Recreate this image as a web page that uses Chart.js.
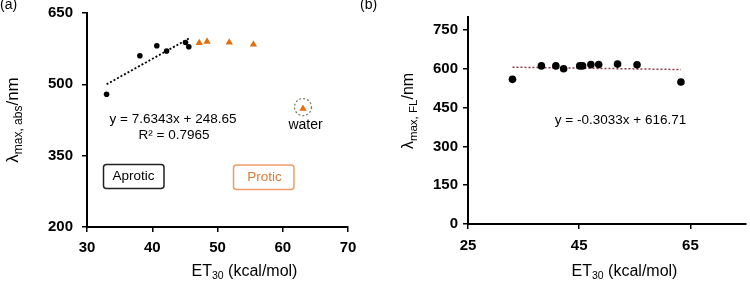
<!DOCTYPE html>
<html>
<head>
<meta charset="utf-8">
<script src="https://cdn.jsdelivr.net/npm/chart.js@4.4.0/dist/chart.umd.min.js"></script>
<style>
  html, body { margin: 0; padding: 0; background: #fff; overflow: hidden; }
  #wrap { position: relative; width: 750px; height: 282px; }
  canvas { position: absolute; top: 0; }
  #chartA { left: 0; }
  #chartB { left: 358px; }
</style>
</head>
<body>
<div id="wrap">
  <canvas id="chartA" width="358" height="282"></canvas>
  <canvas id="chartB" width="392" height="282"></canvas>
</div>
<script>
// ── DATA ─────────────────────────────────────────────────────────
// (a) absorption maxima vs ET30
const etAprotic  = [33.0, 38.1, 40.7, 42.2, 45.1, 45.6];
const absAprotic = [479, 560, 581, 570, 588, 579];
const etProtic   = [47.2, 48.4, 51.8, 55.5, 63.1];   // last one = water
const absProtic  = [587, 590, 588, 584, 449];
const trendAx    = [33.0, 45.7];
const trendAy    = [500, 597];
const xTicksA    = [30, 40, 50, 60, 70];
const yTicksA    = [200, 350, 500, 650];

// (b) fluorescence maxima vs ET30
const etFL       = [33.0, 38.2, 40.8, 42.2, 45.1, 45.6, 47.1, 48.5, 51.9, 55.4, 63.3];
const flVals     = [559, 611, 611, 600, 611, 611, 616, 616, 618, 615, 549];
const trendBx    = [33.0, 63.3];
const trendBy    = [606, 597];
const xTicksB    = [25, 45, 65];
const yTicksB    = [0, 150, 300, 450, 600, 750];

const FONT   = "'Liberation Sans', Arial, sans-serif";
const ORANGE = "#E46C0A";

const pts = (xs, ys) => xs.map((x, i) => ({ x, y: ys[i] }));

// draw a run of text pieces (for sub-scripts), centered on cx, optionally rotated
function richText(ctx, parts, cx, cy, rot) {
  ctx.save();
  ctx.translate(cx, cy);
  ctx.rotate(rot || 0);
  let w = 0;
  parts.forEach(p => { ctx.font = p.f; p.w = ctx.measureText(p.t).width; w += p.w; });
  let x = -w / 2;
  ctx.textAlign = "left";
  ctx.textBaseline = "alphabetic";
  ctx.fillStyle = "#000";
  parts.forEach(p => { ctx.font = p.f; ctx.fillText(p.t, x, p.dy || 0); x += p.w; });
  ctx.restore();
}

function plainText(ctx, t, x, y, font, color, align) {
  ctx.save();
  ctx.font = font;
  ctx.fillStyle = color || "#000";
  ctx.textAlign = align || "center";
  ctx.textBaseline = "middle";
  ctx.fillText(t, x, y);
  ctx.restore();
}

function roundBox(ctx, x0, y0, x1, y1, r, color) {
  ctx.save();
  ctx.strokeStyle = color;
  ctx.lineWidth = 1.5;
  ctx.beginPath();
  ctx.roundRect(x0, y0, x1 - x0, y1 - y0, r);
  ctx.stroke();
  ctx.restore();
}

function axisCfg(ticks, min, max, width, height, pad) {
  return {
    type: "linear",
    min, max,
    afterBuildTicks: s => { s.ticks = ticks.map(v => ({ value: v })); },
    afterFit: s => {
      if (width != null) s.width = width;
      if (height != null) s.height = height;
      s.paddingTop = s.paddingBottom = s.paddingLeft = s.paddingRight = 0;
    },
    grid: { drawOnChartArea: false, drawTicks: true, tickLength: 5, color: "#000", lineWidth: 1.5 },
    border: { display: true, color: "#000", width: 2 },
    ticks: {
      color: "#000",
      padding: pad,
      font: { family: FONT, size: 15, weight: "bold" },
    },
  };
}

// ── (a) ABSORPTION ───────────────────────────────────────────────
(function () {
  const decor = {
    id: "decorA",
    afterDraw(chart) {
      const ctx = chart.ctx;
      plainText(ctx, "(a)", 0, 5, "14px " + FONT, "#000", "left");

      plainText(ctx, "y = 7.6343x + 248.65", 173, 119, "13.5px " + FONT);
      plainText(ctx, "R\u00b2 = 0.7965", 174, 135, "13.5px " + FONT);

      roundBox(ctx, 103.5, 164.5, 164, 188.5, 3, "#222");
      plainText(ctx, "Aprotic", 133.5, 176.5, "13.5px " + FONT, "#000");
      roundBox(ctx, 233.5, 165, 294, 189.5, 3, "#EE9B6A");
      plainText(ctx, "Protic", 264.5, 177.5, "13.5px " + FONT, "#E07B39");

      // dashed ring + label around the water point
      const xs = chart.scales.x, ys = chart.scales.y;
      const wi = etProtic.length - 1;
      const wx = xs.getPixelForValue(etProtic[wi]);
      const wy = ys.getPixelForValue(absProtic[wi]);
      ctx.save();
      ctx.strokeStyle = "#6F7F60";
      ctx.lineWidth = 1.2;
      ctx.setLineDash([2, 2]);
      ctx.beginPath();
      ctx.arc(wx, wy - 1.5, 8.5, 0, Math.PI * 2);
      ctx.stroke();
      ctx.restore();
      plainText(ctx, "water", 305.5, 125, "14px " + FONT);

      richText(ctx, [
        { t: "\u03bb", f: "17px " + FONT },
        { t: "max, abs", f: "12px " + FONT, dy: 4 },
        { t: "/nm", f: "17px " + FONT },
      ], 18, 120, -Math.PI / 2);

      richText(ctx, [
        { t: "ET", f: "16px " + FONT },
        { t: "30", f: "10.5px " + FONT, dy: 3 },
        { t: " (kcal/mol)", f: "16px " + FONT },
      ], 244.5, 276, 0);
    },
  };

  new Chart(document.getElementById("chartA"), {
    type: "scatter",
    data: {
      datasets: [
        {
          data: pts(etAprotic, absAprotic),
          pointStyle: "circle",
          pointRadius: 2.8,
          backgroundColor: "#000",
          borderColor: "#000",
          borderWidth: 0,
        },
        {
          data: pts(etProtic, absProtic),
          pointStyle: "triangle",
          pointRadius: 4.2,
          backgroundColor: ORANGE,
          borderColor: ORANGE,
          borderWidth: 0,
        },
        {
          type: "line",
          data: pts(trendAx, trendAy),
          showLine: true,
          pointRadius: 0,
          borderColor: "#000",
          borderWidth: 1.8,
          borderDash: [2, 2],
          fill: false,
        },
      ],
    },
    options: {
      responsive: false,
      animation: false,
      events: [],
      layout: { padding: { left: 0, right: 10, top: 13, bottom: 0 } },
      plugins: { legend: { display: false }, tooltip: { enabled: false } },
      scales: {
        x: axisCfg(xTicksA, 30, 70, null, 55, 7),
        y: axisCfg(yTicksA, 200, 650, 87, null, 9),
      },
    },
    plugins: [decor],
  });
})();

// ── (b) FLUORESCENCE ─────────────────────────────────────────────
(function () {
  const decor = {
    id: "decorB",
    afterDraw(chart) {
      const ctx = chart.ctx;
      plainText(ctx, "(b)", 2, 5, "14px " + FONT, "#000", "left");
      plainText(ctx, "y = -0.3033x + 616.71", 262.5, 120.5, "13.5px " + FONT);

      richText(ctx, [
        { t: "\u03bb", f: "16px " + FONT },
        { t: "max, FL", f: "11.5px " + FONT, dy: 4 },
        { t: "/nm", f: "16px " + FONT },
      ], 55, 111, -Math.PI / 2);

      richText(ctx, [
        { t: "ET", f: "16px " + FONT },
        { t: "30", f: "10.5px " + FONT, dy: 3 },
        { t: " (kcal/mol)", f: "16px " + FONT },
      ], 266.5, 276, 0);
    },
  };

  new Chart(document.getElementById("chartB"), {
    type: "scatter",
    data: {
      datasets: [
        {
          data: pts(etFL, flVals),
          pointStyle: "circle",
          pointRadius: 3.8,
          backgroundColor: "#000",
          borderColor: "#000",
          borderWidth: 0,
        },
        {
          type: "line",
          data: pts(trendBx, trendBy),
          showLine: true,
          pointRadius: 0,
          borderColor: "#8E3B46",
          borderWidth: 1.5,
          borderDash: [2, 2],
          fill: false,
        },
      ],
    },
    options: {
      responsive: false,
      animation: false,
      events: [],
      layout: { padding: { left: 0, right: 2, top: 17, bottom: 0 } },
      plugins: { legend: { display: false }, tooltip: { enabled: false } },
      scales: {
        x: axisCfg(xTicksB, 25, 75, null, 58, 8),
        y: axisCfg(yTicksB, 0, 800, 110, null, 5),
      },
    },
    plugins: [decor],
  });
})();
</script>
</body>
</html>
